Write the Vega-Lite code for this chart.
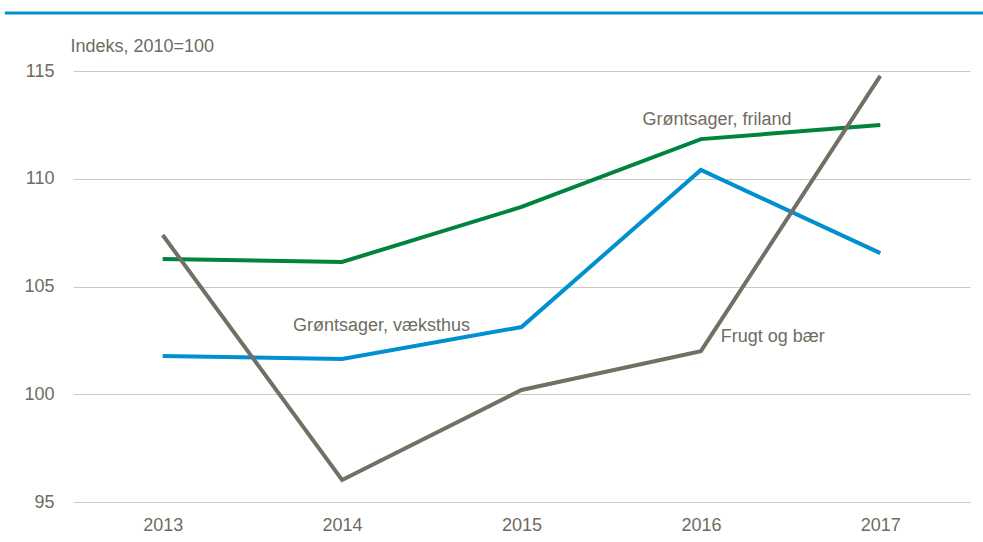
{
  "$schema": "https://vega.github.io/schema/vega-lite/v6.json",
  "width": 897,
  "height": 431,
  "autosize": {"type": "none"},
  "padding": {"left": 73, "top": 71, "right": 13, "bottom": 40},
  "background": "white",
  "config": {
    "view": {"stroke": null},
    "font": "Liberation Sans Narrow, Arial Narrow, Liberation Sans, sans-serif"
  },
  "datasets": {
    "series": [
      {"year": 2013, "value": 101.78, "serie": "Grøntsager, væksthus"},
      {"year": 2014, "value": 101.64, "serie": "Grøntsager, væksthus"},
      {"year": 2015, "value": 103.12, "serie": "Grøntsager, væksthus"},
      {"year": 2016, "value": 110.41, "serie": "Grøntsager, væksthus"},
      {"year": 2017, "value": 106.55, "serie": "Grøntsager, væksthus"},
      {"year": 2013, "value": 106.28, "serie": "Grøntsager, friland"},
      {"year": 2014, "value": 106.14, "serie": "Grøntsager, friland"},
      {"year": 2015, "value": 108.69, "serie": "Grøntsager, friland"},
      {"year": 2016, "value": 111.84, "serie": "Grøntsager, friland"},
      {"year": 2017, "value": 112.49, "serie": "Grøntsager, friland"},
      {"year": 2013, "value": 107.39, "serie": "Frugt og bær"},
      {"year": 2014, "value": 96.02, "serie": "Frugt og bær"},
      {"year": 2015, "value": 100.2, "serie": "Frugt og bær"},
      {"year": 2016, "value": 102.0, "serie": "Frugt og bær"},
      {"year": 2017, "value": 114.77, "serie": "Frugt og bær"}
    ],
    "labels": [
      {"year": 2016.09, "value": 112.73, "label": "Grøntsager, friland"},
      {"year": 2014.22, "value": 103.17, "label": "Grøntsager, væksthus"},
      {"year": 2016.4, "value": 102.66, "label": "Frugt og bær"}
    ],
    "banner": [
      {"start": 2012.12, "end": 2017.58, "level": 117.69}
    ]
  },
  "layer": [
    {
      "data": {"name": "series"},
      "mark": {"type": "line", "strokeWidth": 4, "strokeJoin": "miter"},
      "encoding": {
        "x": {
          "field": "year",
          "type": "quantitative",
          "scale": {"domain": [2012.5, 2017.5], "nice": false, "zero": false},
          "axis": {
            "values": [2013, 2014, 2015, 2016, 2017],
            "format": "d",
            "title": null,
            "grid": false,
            "domain": false,
            "ticks": false,
            "labelPadding": 14,
            "labelFontSize": 18,
            "labelColor": "#6f6b60"
          }
        },
        "y": {
          "field": "value",
          "type": "quantitative",
          "scale": {"domain": [95, 115], "nice": false, "zero": false},
          "axis": {
            "values": [95, 100, 105, 110, 115],
            "title": "Indeks, 2010=100",
            "titleAngle": 0,
            "titleAlign": "left",
            "titleBaseline": "middle",
            "titleX": -3,
            "titleY": -25,
            "titleFontSize": 18,
            "titleFontWeight": "normal",
            "titleColor": "#6f6b60",
            "grid": true,
            "gridColor": "#c9c9c1",
            "gridWidth": 1.2,
            "domain": false,
            "ticks": false,
            "labelPadding": 19,
            "labelFontSize": 18,
            "labelColor": "#6f6b60"
          }
        },
        "color": {
          "field": "serie",
          "type": "nominal",
          "scale": {
            "domain": ["Grøntsager, væksthus", "Grøntsager, friland", "Frugt og bær"],
            "range": ["#0090d0", "#00843d", "#727064"]
          },
          "legend": null
        }
      }
    },
    {
      "mark": {"type": "rule", "color": "#77746a", "strokeWidth": 2},
      "encoding": {
        "y": {"datum": 100, "type": "quantitative"}
      }
    },
    {
      "data": {"name": "labels"},
      "mark": {"type": "text", "fontSize": 18, "color": "#6f6b60", "align": "center", "baseline": "middle"},
      "encoding": {
        "x": {"field": "year", "type": "quantitative"},
        "y": {"field": "value", "type": "quantitative"},
        "text": {"field": "label"}
      }
    },
    {
      "data": {"name": "banner"},
      "mark": {"type": "rule", "color": "#0090d0", "strokeWidth": 3, "clip": false},
      "encoding": {
        "x": {"field": "start", "type": "quantitative"},
        "x2": {"field": "end"},
        "y": {"field": "level", "type": "quantitative"}
      }
    }
  ]
}
